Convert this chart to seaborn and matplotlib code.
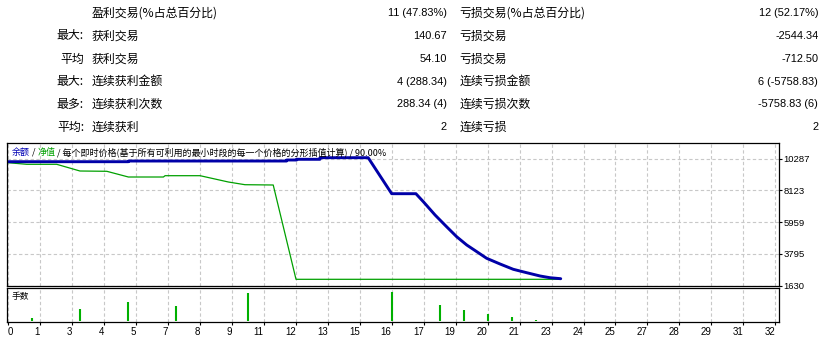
import numpy as np
import pandas as pd
import matplotlib
matplotlib.use("Agg")
import matplotlib.pyplot as plt
import seaborn as sns

# ---------------- data ----------------
balance_trade = [0, 5.02, 5.02, 11.62, 11.62, 12.04, 12.04, 13.01, 13.01, 15.02, 16.0, 17.01,
                 17.32, 17.81, 18.29, 18.71, 19.13, 19.55, 19.96, 20.52, 21.07, 21.63, 22.19, 22.6, 23.05]
balance_value = [10083, 10083, 10130, 10130, 10199, 10199, 10247, 10247, 10356, 10356, 7902, 7902,
                 7356, 6448, 5652, 4970, 4405, 3948, 3498, 3109, 2748, 2516, 2291, 2175, 2107]

equity_trade = [0, 0.78, 2.03, 3.0, 4.12, 5.02, 6.48, 6.55, 8.01, 9.19, 9.88, 11.06, 12.01, 23.02]
equity_value = [10015, 9906, 9906, 9449, 9429, 9040, 9040, 9129, 9129, 8699, 8515, 8495, 2066, 2066]

lot_trade = [1, 3, 5, 7, 10, 16, 18, 19, 20, 21, 22]
lot_value = [0.10, 0.41, 0.65, 0.51, 0.96, 1.00, 0.55, 0.37, 0.23, 0.13, 0.04]

y_ticks = [1630, 3795, 5959, 8123, 10287]
x_tick_labels = ['0', '1', '3', '4', '5', '7', '8', '9', '11', '12', '13', '15', '16',
                 '17', '19', '20', '21', '23', '24', '25', '27', '28', '29', '31', '32']

row_prefix = ['', '最大:', '平均', '最大:', '最多:', '平均:']
row_win_label = ['盈利交易(%占总百分比)', '获利交易', '获利交易', '连续获利金额', '连续获利次数', '连续获利']
row_win_value = ['11 (47.83%)', '140.67', '54.10', '4 (288.34)', '288.34 (4)', '2']
row_loss_label = ['亏损交易(%占总百分比)', '亏损交易', '亏损交易', '连续亏损金额', '连续亏损次数', '连续亏损']
row_loss_value = ['12 (52.17%)', '-2544.34', '-712.50', '6 (-5758.83)', '-5758.83 (6)', '2']

title_parts = ['余额', ' / ', '净值', ' / 每个即时价格(基于所有可利用的最小时段的每一个价格的分形插值计算) / 90.00%']
title_colors = ['#0000b4', '#000000', '#00a000', '#000000']

# ---------------- style ----------------
sns.set_theme(style="white")
plt.rcParams['font.family'] = ['Noto Sans CJK SC', 'DejaVu Sans']
plt.rcParams['axes.edgecolor'] = '#000000'

W, H = 832, 337
fig = plt.figure(figsize=(W / 100, H / 100), dpi=100)
fig.patch.set_facecolor('white')

def fx(px):
    return px / W

def fy(py):
    return 1 - py / H

# ---------------- stats table ----------------
row_y = [13.3, 36, 59, 81.7, 104.3, 127.3]
cjk = dict(family=['Noto Sans CJK SC', 'DejaVu Sans'], fontsize=8.6, color='#000000', va='center')
num = dict(family=['Liberation Sans', 'DejaVu Sans'], fontsize=7.9, color='#000000', va='center')
for i, y in enumerate(row_y):
    fig.text(fx(84), fy(y), row_prefix[i], ha='right', **cjk)
    fig.text(fx(92), fy(y), row_win_label[i], ha='left', **cjk)
    fig.text(fx(446.7), fy(y), row_win_value[i], ha='right', **num)
    fig.text(fx(459.3), fy(y), row_loss_label[i], ha='left', **cjk)
    fig.text(fx(818.3), fy(y), row_loss_value[i], ha='right', **num)

# ---------------- axes ----------------
left, right = 7.3, 778.7
ax = fig.add_axes([fx(left), fy(285.7), (right - left) / W, (285.7 - 143) / H])
ax2 = fig.add_axes([fx(left), fy(322.3), (right - left) / W, (322.3 - 288) / H])

x_ticks = np.linspace(0, 32, len(x_tick_labels))
xlim = (-0.03, 32.14)

grid_kw = dict(color='#c8c8c8', linestyle=(0, (3.0, 2.2)), linewidth=0.8)

for a in (ax, ax2):
    a.set_facecolor('white')
    for s in a.spines.values():
        s.set_color('#000000')
        s.set_linewidth(0.9)
    a.set_xlim(*xlim)
    a.set_xticks(x_ticks)
    a.set_axisbelow(True)

# top panel
ax.set_ylim(1630, 11358)
ax.set_yticks(y_ticks)
ax.grid(True, axis='both', **grid_kw)
sns.lineplot(x=equity_trade, y=equity_value, ax=ax, color='#00a000', linewidth=0.9,
             sort=False, estimator=None)
sns.lineplot(x=balance_trade, y=balance_value, ax=ax, color='#0000a8', linewidth=2.1,
             sort=False, estimator=None)
ax.yaxis.tick_right()
ax.tick_params(axis='y', which='both', right=True, left=False, length=2, width=0.8,
               pad=1.5, labelsize=6.8, colors='#000000')
for lab in ax.get_yticklabels():
    lab.set_family(['Liberation Sans', 'DejaVu Sans'])
ax.tick_params(axis='x', length=0, labelbottom=False)
ax.set_xlabel('')
ax.set_ylabel('')

# bottom panel
ax2.set_ylim(-0.056, 1.139)
ax2.set_yticks([])
ax2.grid(True, axis='x', **grid_kw)
ax2.vlines(lot_trade, 0, lot_value, color='#00b000', linewidth=1.5)
ax2.set_xticklabels(x_tick_labels)
ax2.tick_params(axis='x', bottom=True, length=2, width=0.8, pad=1.2, labelsize=7.0,
                colors='#000000')
for k, lab in enumerate(ax2.get_xticklabels()):
    lab.set_family(['Liberation Sans', 'DejaVu Sans'])
    lab.set_ha('left' if k == 0 else 'right')
fig.text(fx(11.7), fy(297), '手数', ha='left', va='center',
         family=['Noto Sans CJK SC', 'DejaVu Sans'], fontsize=6.3, color='#000000')

# ---------------- title in chart (multi-colour) ----------------
fig.canvas.draw()
renderer = fig.canvas.get_renderer()
x_cur = fx(11.7)
for part, col in zip(title_parts, title_colors):
    t = fig.text(x_cur, fy(152.3), part, ha='left', va='center', color=col,
                 family=['Noto Sans CJK SC', 'DejaVu Sans'], fontsize=6.5)
    bb = t.get_window_extent(renderer=renderer)
    x_cur = bb.x1 / W

fig.savefig('out.png', dpi=100, facecolor='white')
